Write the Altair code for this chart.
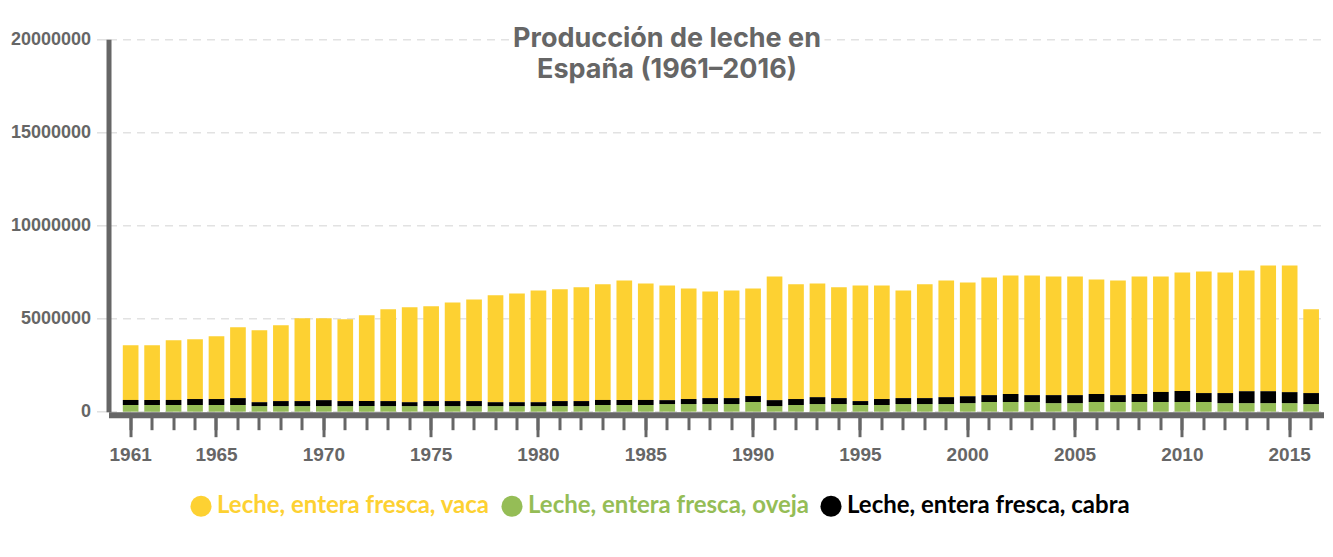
import altair as alt
import pandas as pd

years = list(range(1961, 2017))

# tonnes
vaca = [2940000, 2940000, 3210000, 3210000, 3370000, 3800000, 3860000, 4070000, 4450000, 4400000,
        4390000, 4610000, 4930000, 5100000, 5090000, 5300000, 5460000, 5740000, 5840000, 6000000,
        6000000, 6110000, 6210000, 6420000, 6260000, 6160000, 5940000, 5730000, 5780000, 5780000,
        6640000, 6160000, 6110000, 5950000, 6210000, 6100000, 5780000, 6110000, 6270000, 6110000,
        6320000, 6370000, 6430000, 6370000, 6370000, 6150000, 6160000, 6310000, 6200000, 6370000,
        6530000, 6480000, 6480000, 6750000, 6800000, 4500000]
oveja = [360000, 360000, 360000, 360000, 360000, 360000, 300000, 300000, 300000, 300000,
         300000, 300000, 300000, 300000, 300000, 300000, 300000, 300000, 300000, 300000,
         300000, 300000, 360000, 360000, 360000, 410000, 410000, 410000, 410000, 520000,
         300000, 360000, 410000, 410000, 360000, 360000, 410000, 410000, 410000, 460000,
         520000, 520000, 520000, 460000, 460000, 520000, 520000, 520000, 520000, 520000,
         520000, 460000, 460000, 460000, 460000, 410000]
cabra = [270000, 270000, 270000, 320000, 320000, 370000, 210000, 270000, 270000, 320000,
         270000, 270000, 270000, 210000, 270000, 270000, 270000, 210000, 210000, 210000,
         270000, 270000, 270000, 270000, 270000, 210000, 270000, 320000, 320000, 320000,
         320000, 320000, 370000, 320000, 210000, 320000, 320000, 320000, 370000, 370000,
         370000, 430000, 370000, 430000, 430000, 430000, 370000, 430000, 540000, 590000,
         480000, 540000, 640000, 640000, 590000, 590000]

series_names = ["Leche, entera fresca, vaca", "Leche, entera fresca, oveja", "Leche, entera fresca, cabra"]
series_colors = ["#FDD132", "#95BD56", "#000000"]
stack_order = [2, 0, 1]
y_ticks = [0, 5000000, 10000000, 15000000, 20000000]
x_label_years = [1961, 1965, 1970, 1975, 1980, 1985, 1990, 1995, 2000, 2005, 2010, 2015]
title_lines = ["Producción de leche en", "España (1961–2016)"]

rows = []
for name, vals, o in zip(series_names, [vaca, oveja, cabra], stack_order):
    for yr, v in zip(years, vals):
        rows.append({"year": yr, "serie": name, "valor": v, "orden": o})
df = pd.DataFrame(rows)

AXFONT = "Liberation Sans, Arial, sans-serif"
LEGFONT = "Lato, Liberation Sans, sans-serif"
GREY = "#666666"
x_scale = alt.Scale(paddingInner=0.27, paddingOuter=0.45, align=0.74)

y_enc = alt.Y(
    "valor:Q", stack="zero",
    scale=alt.Scale(domain=[0, 20000000], nice=False),
    axis=alt.Axis(
        title=None, values=y_ticks, format="d",
        domainColor=GREY, domainWidth=5,
        tickColor="#e0e0e0", tickWidth=1.5, tickSize=12,
        grid=True, gridColor="#e2e2e2", gridDash=[8, 6], gridWidth=1.5,
        labelFont=AXFONT, labelFontSize=18, labelFontWeight="bold", labelColor=GREY,
        labelPadding=6,
    ),
)

# bars + minor ticks (every year, no labels)
bars = alt.Chart(df).mark_bar().encode(
    x=alt.X(
        "year:O", scale=x_scale,
        axis=alt.Axis(
            title=None, grid=False, offset=3, orient="bottom",
            domainColor=GREY, domainWidth=6,
            tickColor=GREY, tickWidth=3, tickSize=15,
            labels=False,
        ),
    ),
    y=y_enc,
    color=alt.Color("serie:N", scale=alt.Scale(domain=series_names, range=series_colors), legend=None),
    order=alt.Order("orden:Q", sort="ascending"),
)

# one single-entry legend per series so each label gets its own colour
legend_x = [80.5, 391.5, 710.5]
legend_layers = []
for i, (name, col, lx) in enumerate(zip(series_names, series_colors, legend_x)):
    if i == 0:
        # this layer also carries the major ticks + year labels
        x_axis = alt.Axis(
            title=None, grid=False, offset=3, orient="bottom", domain=False,
            values=x_label_years,
            tickColor=GREY, tickWidth=3, tickSize=22,
            labelAngle=0, labelOverlap=False, labelFlush=False,
            labelFont=AXFONT, labelFontSize=19, labelFontWeight="bold", labelColor=GREY,
            labelPadding=9,
        )
    else:
        x_axis = None
    legend_layers.append(
        alt.Chart(df).transform_filter(alt.datum.serie == name).mark_circle(opacity=0).encode(
            x=alt.X("year:O", scale=x_scale, axis=x_axis),
            y=alt.Y("valor:Q", stack=None),
            color=alt.Color(
                "serie:N",
                scale=alt.Scale(domain=[name], range=[col]),
                legend=alt.Legend(
                    title=None, orient="none", legendX=lx, legendY=455,
                    symbolType="circle", symbolSize=441, symbolStrokeWidth=0, symbolOpacity=1,
                    symbolFillColor=col,
                    labelFont=LEGFONT, labelFontSize=24, labelFontWeight="bold", labelColor=col,
                    labelLimit=600, labelOffset=4,
                ),
            ),
        )
    )

title_df = pd.DataFrame({"t": [0]})
halo = alt.Chart(title_df).mark_text(
    text=title_lines, font="Inter", fontSize=27, fontWeight="bold",
    align="center", baseline="alphabetic", lineHeight=31,
    fill="white", stroke="white", strokeWidth=10, strokeJoin="round",
).encode(x=alt.value(558.5), y=alt.value(7.7))
title = alt.Chart(title_df).mark_text(
    text=title_lines, font="Inter", fontSize=27, fontWeight="bold",
    align="center", baseline="alphabetic", lineHeight=31, color=GREY,
).encode(x=alt.value(558.5), y=alt.value(7.7))

chart = alt.layer(bars, *legend_layers, halo, title).resolve_scale(
    color="independent"
).resolve_axis(x="independent").properties(
    width=1215.5, height=372.4,
    autosize=alt.AutoSizeParams(type="none"),
    padding={"left": 100.5, "top": 31.3, "right": 0, "bottom": 130},
    background="white",
).configure_view(stroke=None)

chart.save("out.html", embed_options={"renderer": "svg", "actions": False})
